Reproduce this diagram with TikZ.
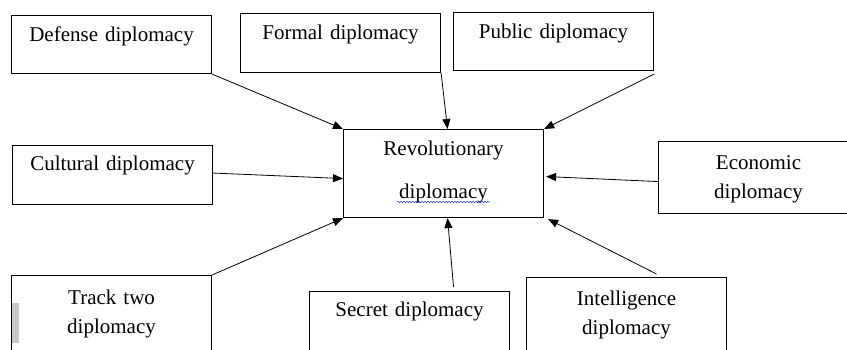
\documentclass[tikz,border=0pt]{standalone}
\usepackage{fontspec}
\setmainfont{Liberation Serif}
\usepackage{xcolor}
\usepackage{tikz}
\usetikzlibrary{calc,arrows.meta,decorations.pathmorphing}
\definecolor{ink}{HTML}{000000}
\definecolor{spell}{HTML}{2B3BD9}
\definecolor{bar}{HTML}{C8C8C8}
\tikzset{
  box/.style={draw=ink, line width=1.1pt, inner sep=0pt, text width=200pt,
    align=center, anchor=north west, text height=26pt,
    font=\fontsize{21}{29}\selectfont},
  conn/.style={draw=ink, line width=0.8pt, -{Triangle[length=10pt,width=8pt]}},
  wavy/.style={draw=spell, line width=0.5pt,
    decorate, decoration={snake, amplitude=0.8pt, segment length=3pt}}
}

\begin{document}
\begin{tikzpicture}[x=1pt, y=-1pt]
  \useasboundingbox (0,0) rectangle (847,349);
  \clip (0,0) rectangle (847,349);
  % outer boxes
  \node[box, text depth=32pt] (defense) at (11,15) {Defense diplomacy};
  \node[box, text depth=33pt] (formal) at (240,13) {Formal diplomacy};
  \node[box, text depth=32pt] (public) at (453,12) {Public diplomacy};
  \node[box, text height=25pt, text depth=34pt] (cultural) at (12,145) {Cultural diplomacy};
  \node[box, text height=28pt, text depth=44pt] (economic) at (658,141) {Economic\\diplomacy};
  \node[box, text height=29pt, text depth=60pt] (track) at (11,275) {Track two\\diplomacy};
  \node[box, text height=25pt, text depth=60pt] (secret) at (309,291) {Secret diplomacy};
  \node[box, text height=28pt, text depth=60pt] (intel) at (526,277) {Intelligence\\diplomacy};
  % centre
  \node[box, text depth=62pt] (rev) at (343,129) {Revolutionary\\[14pt]diplomacy};
  \draw[wavy] (397,202) -- (490,202);
  \fill[bar] (12,303) rectangle (19,343);
  % arrows
  \draw[conn] (defense.south east) -- (rev.north west);
  \draw[conn] (formal.south east) -- ([xshift=4pt]rev.north);
  \draw[conn] ([yshift=-3pt]public.south east) -- (rev.north east);
  \draw[conn] ([yshift=2pt]cultural.east) -- ([yshift=-5pt]rev.west);
  \draw[conn] ([yshift=-4pt]economic.west) -- ([xshift=2pt,yshift=-3pt]rev.east);
  \draw[conn] (track.north east) -- (rev.south west);
  \draw[conn] ([xshift=44pt,yshift=4pt]secret.north) -- ([xshift=4pt]rev.south);
  \draw[conn] ([xshift=30pt,yshift=3pt]intel.north) -- ([xshift=4pt,yshift=-1pt]rev.south east);
\end{tikzpicture}
\end{document}
